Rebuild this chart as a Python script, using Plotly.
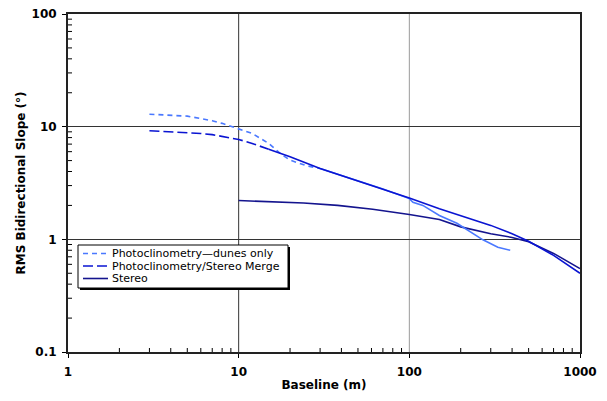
import plotly.graph_objects as go

# RMS bidirectional slope vs. baseline for three topographic models
dunes_x = [3, 4, 5, 6, 7, 8, 10, 12, 15, 18, 20, 25, 30, 40, 50, 70, 100,
           105, 120, 150, 190, 230, 270, 330, 390]
dunes_y = [12.9, 12.6, 12.4, 11.8, 11.3, 10.7, 9.6, 8.7, 7.1, 5.6, 5.05, 4.5,
           4.25, 3.7, 3.3, 2.8, 2.3, 2.13, 2.0, 1.63, 1.39, 1.16, 0.99, 0.85, 0.80]

merge_x = [3, 4, 5, 6, 7, 8, 10, 12, 15, 20, 30, 50, 70, 100, 150, 200, 300,
           400, 500, 700, 1000]
merge_y = [9.2, 9.0, 8.9, 8.7, 8.5, 8.2, 7.7, 7.1, 6.3, 5.4, 4.25, 3.3, 2.82,
           2.33, 1.87, 1.63, 1.33, 1.12, 0.96, 0.72, 0.50]

stereo_x = [10, 16, 24, 38, 61, 100, 150, 200, 300, 400, 500, 700, 1000]
stereo_y = [2.21, 2.15, 2.10, 2.0, 1.85, 1.66, 1.50, 1.29, 1.12, 1.04, 0.95,
            0.75, 0.55]

# dense sampling makes the dashed styles read as solid beyond these baselines
dunes_dash_end = 30
merge_dash_end = 15

series_names = ["Photoclinometry\u2014dunes only",
                "Photoclinometry/Stereo Merge",
                "Stereo"]

x_major = [1, 10, 100, 1000]
y_major = [0.1, 1, 10, 100]

c_dunes = "#4a78ff"
c_merge = "#0a14d2"
c_stereo = "#14148e"
dash_dunes = "5px,4px"
dash_merge = "10px,4px"

W, H = 607, 401
ML, MR, MT, MB = 68, 27, 14, 49
PW, PH = W - ML - MR, H - MT - MB


def px_x(p):
    return (p - ML) / PW


def px_y(p):
    return (H - MB - p) / PH


def split(xs, ys, cut):
    a = [(x, y) for x, y in zip(xs, ys) if x <= cut]
    b = [(x, y) for x, y in zip(xs, ys) if x >= cut]
    return ([p[0] for p in a], [p[1] for p in a]), ([p[0] for p in b], [p[1] for p in b])


def minor_vals(majors):
    out = []
    for m in majors[:-1]:
        out += [m * k for k in range(2, 10)]
    return out


(dx1, dy1), (dx2, dy2) = split(dunes_x, dunes_y, dunes_dash_end)
(mx1, my1), (mx2, my2) = split(merge_x, merge_y, merge_dash_end)

fig = go.Figure()

fig.add_trace(go.Scatter(x=stereo_x, y=stereo_y, mode="lines", name=series_names[2],
                         line=dict(color=c_stereo, width=1.6)))
fig.add_trace(go.Scatter(x=dx1, y=dy1, mode="lines", name=series_names[0],
                         line=dict(color=c_dunes, width=1.6, dash=dash_dunes)))
fig.add_trace(go.Scatter(x=dx2, y=dy2, mode="lines", name=series_names[0],
                         line=dict(color=c_dunes, width=1.6)))
fig.add_trace(go.Scatter(x=mx1, y=my1, mode="lines", name=series_names[1],
                         line=dict(color=c_merge, width=1.6, dash=dash_merge)))
fig.add_trace(go.Scatter(x=mx2, y=my2, mode="lines", name=series_names[1],
                         line=dict(color=c_merge, width=1.6)))

# vertical decade grid lines
for xv, col in [(10, "#333333"), (100, "#9a9a9a")]:
    fig.add_shape(type="line", xref="x", yref="paper", x0=xv, x1=xv, y0=0, y1=1,
                  line=dict(color=col, width=1), layer="below")

# minor tick marks pointing into the plot area
for xv in minor_vals(x_major):
    fig.add_shape(type="line", xref="x", yref="paper", ysizemode="pixel", yanchor=0,
                  x0=xv, x1=xv, y0=0, y1=4, line=dict(color="black", width=1))
for yv in minor_vals(y_major):
    fig.add_shape(type="line", xref="paper", yref="y", xsizemode="pixel", xanchor=0,
                  x0=0, x1=4, y0=yv, y1=yv, line=dict(color="black", width=1))

# legend box with drop shadow
box_l, box_r, box_t, box_b = 78, 288, 245, 288
fig.add_shape(type="rect", xref="paper", yref="paper",
              x0=px_x(box_l + 2), x1=px_x(box_r + 2), y0=px_y(box_b + 2), y1=px_y(box_t + 2),
              fillcolor="black", line=dict(width=0), layer="above")
fig.add_shape(type="rect", xref="paper", yref="paper",
              x0=px_x(box_l), x1=px_x(box_r), y0=px_y(box_b), y1=px_y(box_t),
              fillcolor="white", line=dict(color="black", width=1), layer="above")

legend_rows = [(series_names[0], c_dunes, dash_dunes, 253.5),
               (series_names[1], c_merge, dash_merge, 266),
               (series_names[2], c_stereo, "solid", 278.5)]
for name, col, dash, ry in legend_rows:
    fig.add_shape(type="line", xref="paper", yref="paper",
                  x0=px_x(83), x1=px_x(108), y0=px_y(ry), y1=px_y(ry),
                  line=dict(color=col, width=1.6, dash=dash), layer="above")
    fig.add_annotation(xref="paper", yref="paper", x=px_x(110), y=px_y(ry),
                       xanchor="left", yanchor="middle", showarrow=False,
                       text=name, font=dict(family="DejaVu Sans", size=11, color="black"))

tickfont = dict(family="DejaVu Sans", size=12, color="black", weight="bold")
titlefont = dict(family="DejaVu Sans", size=12, color="black", weight="bold")

fig.update_xaxes(type="log", range=[0, 3], showgrid=False, automargin=False,
                 tickmode="array", tickvals=x_major, ticktext=[str(v) for v in x_major],
                 ticks="outside", ticklen=4, tickwidth=1, tickcolor="black",
                 ticklabelstandoff=4,
                 showline=True, linecolor="#222222", linewidth=2, mirror=True,
                 tickfont=tickfont,
                 title=dict(text="Baseline (m)", font=titlefont, standoff=2))
fig.update_yaxes(type="log", range=[-1, 2], showgrid=True, gridcolor="#333333",
                 gridwidth=1, automargin=False,
                 tickmode="array", tickvals=y_major, ticktext=[str(v) for v in y_major],
                 ticks="outside", ticklen=4, tickwidth=1, tickcolor="black",
                 ticklabelstandoff=3,
                 showline=True, linecolor="#222222", linewidth=2, mirror=True,
                 tickfont=tickfont,
                 title=dict(text="RMS Bidirectional Slope (\u00b0)", font=titlefont,
                            standoff=3))

fig.update_layout(
    width=W, height=H,
    margin=dict(l=ML, r=MR, t=MT, b=MB),
    paper_bgcolor="white", plot_bgcolor="white",
    showlegend=False,
)

fig.write_html("out.html")
